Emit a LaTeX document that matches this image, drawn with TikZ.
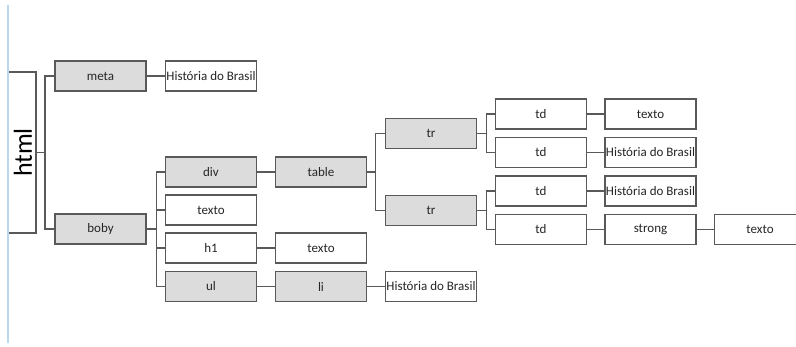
\documentclass[tikz,border=0pt]{standalone}
\usepackage{fontspec}
\setmainfont{Carlito}
\definecolor{edge}{HTML}{595959}
\definecolor{shade}{HTML}{DCDCDC}
\definecolor{margin}{HTML}{BBD9EC}
\begin{document}
\begin{tikzpicture}[x=1pt,y=-1pt,
  box/.style={draw=edge,line width=1.3pt,minimum width=91pt,minimum height=30pt,
    inner sep=0pt,font=\fontsize{13}{15}\selectfont,text=black!85},
  graybox/.style={box,fill=shade},
  whitebox/.style={box,fill=white},
  link/.style={draw=edge,line width=1.2pt}]
\useasboundingbox (0,0) rectangle (796,346);
\begin{scope}
\clip (0,0) rectangle (796,346);

% root element, drawn open on its left side
\draw[link] (8,72) -- (36,72) -- (36,233) -- (8,233);
\coordinate (htmlE) at (36,152.5);
\node[rotate=90,font=\fontsize{26}{28}\selectfont,text=black] (html) at (23,152.5) {html};

% first level
\node[graybox] (meta) at (100.5,76) {meta};
\node[graybox] (boby) at (100.5,229) {boby};
\node[whitebox] (metatxt) at (211,76) {História do Brasil};

% children of boby
\node[graybox] (div) at (211,172) {div};
\node[whitebox] (texto1) at (211,210) {texto};
\node[whitebox] (h1) at (211,248) {h1};
\node[graybox] (ul) at (211,286.5) {ul};

\node[graybox] (table) at (321,172) {table};
\node[whitebox] (texto2) at (321,248) {texto};
\node[graybox] (li) at (321,286.5) {li};
\node[whitebox] (litxt) at (431,286.5) {História do Brasil};

% table rows and cells
\node[graybox] (tr1) at (431,133.5) {tr};
\node[graybox] (tr2) at (431,210.5) {tr};
\node[whitebox] (td1) at (541,114) {td};
\node[whitebox] (td2) at (541,152.5) {td};
\node[whitebox] (td3) at (541,191) {td};
\node[whitebox] (td4) at (541,229.5) {td};
\node[whitebox] (texto3) at (650.5,114) {texto};
\node[whitebox] (tdtxt2) at (650.5,152.5) {História do Brasil};
\node[whitebox] (tdtxt3) at (650.5,191) {História do Brasil};
\node[whitebox] (strong) at (650.5,229.5) {strong};
\node[whitebox] (texto4) at (760,229.5) {texto};

% bracket connectors
\draw[link] (htmlE) -- ++(9,0) |- (meta.west);
\draw[link] (htmlE) -- ++(9,0) |- (boby.west);
\foreach \c in {div,texto1,h1,ul}
  \draw[link] (boby.east) -- ++(10,0) |- (\c.west);
\foreach \c in {tr1,tr2}
  \draw[link] (table.east) -- ++(8,0) |- (\c.west);
\foreach \c in {td1,td2}
  \draw[link] (tr1.east) -- ++(9,0) |- (\c.west);
\foreach \c in {td3,td4}
  \draw[link] (tr2.east) -- ++(9,0) |- (\c.west);

% straight connectors
\draw[link] (meta) -- (metatxt);
\draw[link] (div) -- (table);
\draw[link] (h1) -- (texto2);
\draw[link] (ul) -- (li);
\draw[link] (li) -- (litxt);
\draw[link] (td1) -- (texto3);
\draw[link] (td2) -- (tdtxt2);
\draw[link] (td3) -- (tdtxt3);
\draw[link] (td4) -- (strong);
\draw[link] (strong) -- (texto4);

% page margin rule
\draw[margin,line width=1.2pt] (8,5) -- (8,343);
\end{scope}
\end{tikzpicture}
\end{document}
